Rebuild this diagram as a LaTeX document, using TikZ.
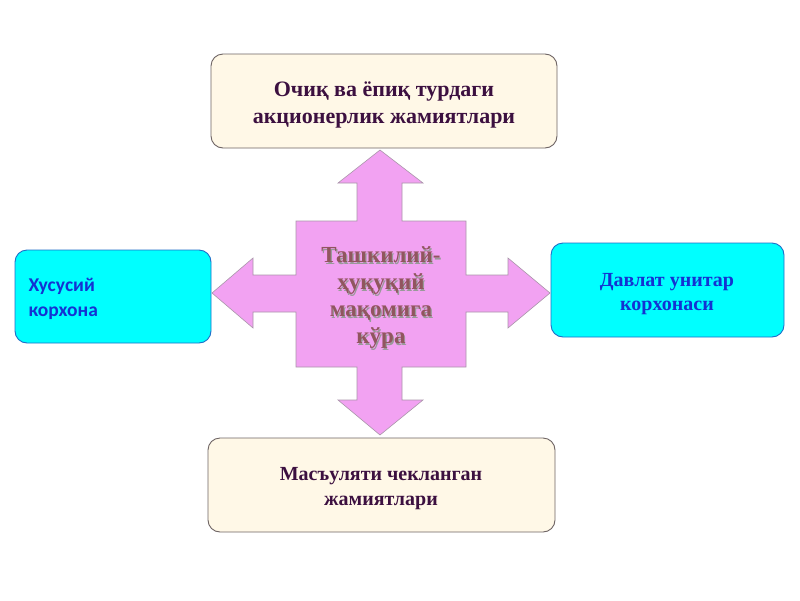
\documentclass[tikz,border=0pt]{standalone}
\usepackage{fontspec}
\setmainfont{Liberation Serif}
\newfontfamily\carl{Carlito}
\definecolor{cream}{RGB}{255,248,231}
\definecolor{creamedge}{RGB}{110,100,100}
\definecolor{cyanbox}{RGB}{0,255,255}
\definecolor{cyanedge}{RGB}{30,110,200}
\definecolor{pinkx}{RGB}{242,162,242}
\definecolor{pinkedge}{RGB}{170,150,170}
\definecolor{darkpurp}{RGB}{60,16,64}
\definecolor{bluetxt}{RGB}{20,50,210}
\definecolor{centertxt}{RGB}{145,85,95}
\tikzset{
  x=1pt,y=-1pt,
  creambox/.style={draw=creamedge,line width=0.9pt,fill=cream,rounded corners=12pt},
  cyanboxst/.style={draw=cyanedge,line width=0.9pt,fill=cyanbox,rounded corners=12pt},
  serifbold/.style={text=darkpurp,align=center},
}
\begin{document}
\begin{tikzpicture}
\useasboundingbox (0,0) rectangle (800,600);
\fill[white] (0,0) rectangle (800,600);
% boxes
\draw[creambox] (211,54) rectangle (557,148);
\draw[creambox] (208,438) rectangle (555,532);
\draw[cyanboxst] (15,250) rectangle (211,343);
\draw[cyanboxst] (551,243) rectangle (784,337);
% cross arrow
\draw[fill=pinkx,draw=pinkedge,line width=0.6pt]
  (380,150) -- (423,183) -- (402,183) -- (402,221) -- (466,221) -- (466,275)
  -- (508,275) -- (508,258) -- (550,293) -- (508,328) -- (508,312) -- (466,312)
  -- (466,367) -- (402,367) -- (402,400) -- (423,400) -- (380,435) -- (338,400)
  -- (357,400) -- (357,367) -- (296,367) -- (296,312) -- (253,312) -- (253,328)
  -- (212,293) -- (253,258) -- (253,275) -- (296,275) -- (296,221) -- (357,221)
  -- (357,183) -- (338,183) -- cycle;
% texts
\node[serifbold,font=\fontsize{22}{27}\selectfont\bfseries] (top) at (384,105) {Очиқ ва ёпиқ турдаги\\акционерлик жамиятлари};
\node[serifbold,font=\fontsize{20}{25}\selectfont\bfseries] (bot) at (381,489) {Масъуляти чекланган\\жамиятлари};
\node[font=\carl\fontsize{19.5}{25}\selectfont\bfseries,text=bluetxt,align=left,anchor=west] (left) at (25,299) {Хусусий\\корхона};
\node[font=\fontsize{20}{24}\selectfont\bfseries,text=bluetxt,align=center] (right) at (667,294) {Давлат унитар\\корхонаси};
\node[font=\fontsize{23}{27}\selectfont\bfseries,text=black!40,align=center] at (382.2,299.2) {Ташкилий-\\ҳуқуқий\\мақомига\\кўра};
\node[font=\fontsize{23}{27}\selectfont\bfseries,text=centertxt,align=center] (center) at (381,298) {Ташкилий-\\ҳуқуқий\\мақомига\\кўра};
\end{tikzpicture}
\end{document}
